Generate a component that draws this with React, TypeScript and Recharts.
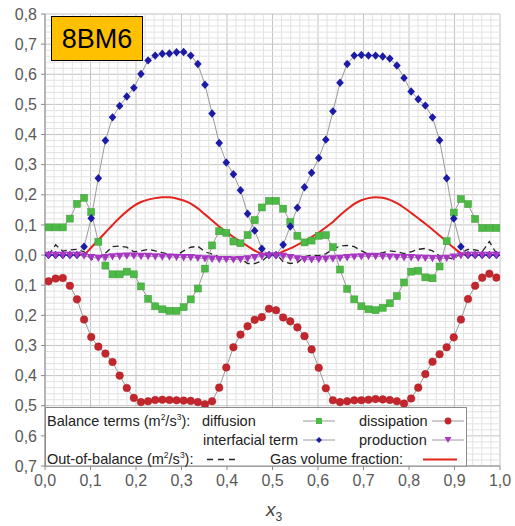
import React from 'react';
import { ComposedChart, Line, XAxis, YAxis, CartesianGrid, ReferenceLine } from 'recharts';

// cell centres along x3 (64 cells)
const xPos = [
  0.0078, 0.0234, 0.0391, 0.0547, 0.0703, 0.0859, 0.1016, 0.1172, 0.1328, 0.1484, 0.1641, 0.1797, 0.1953, 0.2109, 0.2266, 0.2422,
  0.2578, 0.2734, 0.2891, 0.3047, 0.3203, 0.3359, 0.3516, 0.3672, 0.3828, 0.3984, 0.4141, 0.4297, 0.4453, 0.4609, 0.4766, 0.4922,
  0.5078, 0.5234, 0.5391, 0.5547, 0.5703, 0.5859, 0.6016, 0.6172, 0.6328, 0.6484, 0.6641, 0.6797, 0.6953, 0.7109, 0.7266, 0.7422,
  0.7578, 0.7734, 0.7891, 0.8047, 0.8203, 0.8359, 0.8516, 0.8672, 0.8828, 0.8984, 0.9141, 0.9297, 0.9453, 0.9609, 0.9766, 0.9922,
];

const diffusion = [
  0.092, 0.092, 0.092, 0.121, 0.170, 0.190, 0.143, 0.044, -0.035, -0.064, -0.064, -0.055, -0.064, -0.104, -0.145, -0.170,
  -0.180, -0.185, -0.185, -0.173, -0.147, -0.111, -0.045, 0.032, 0.079, 0.074, 0.045, 0.039, 0.066, 0.116, 0.158, 0.180,
  0.180, 0.154, 0.110, 0.064, 0.042, 0.048, 0.064, 0.066, 0.026, -0.048, -0.112, -0.147, -0.170, -0.180, -0.183, -0.175,
  -0.160, -0.136, -0.091, -0.055, -0.052, -0.074, -0.077, -0.038, 0.046, 0.141, 0.186, 0.169, 0.120, 0.090, 0.090, 0.090,
];

const dissipation = [
  -0.087, -0.078, -0.076, -0.102, -0.147, -0.214, -0.272, -0.304, -0.327, -0.355, -0.400, -0.441, -0.474, -0.488, -0.485, -0.481,
  -0.480, -0.481, -0.482, -0.483, -0.484, -0.488, -0.495, -0.485, -0.440, -0.373, -0.306, -0.264, -0.236, -0.215, -0.206, -0.178,
  -0.183, -0.207, -0.220, -0.240, -0.269, -0.313, -0.374, -0.442, -0.482, -0.488, -0.485, -0.482, -0.482, -0.480, -0.478, -0.479,
  -0.481, -0.485, -0.493, -0.476, -0.440, -0.395, -0.354, -0.329, -0.306, -0.273, -0.214, -0.146, -0.102, -0.075, -0.062, -0.075,
];

const interfacial = [
  0, 0, 0, 0, 0, 0.028, 0.122, 0.255, 0.380, 0.457, 0.495, 0.526, 0.555, 0.601, 0.646, 0.662,
  0.668, 0.669, 0.673, 0.674, 0.662, 0.634, 0.565, 0.470, 0.372, 0.307, 0.268, 0.215, 0.137, 0.081, 0.021, 0,
  0, 0.034, 0.095, 0.157, 0.225, 0.273, 0.322, 0.383, 0.477, 0.572, 0.634, 0.662, 0.664, 0.662, 0.662, 0.659,
  0.652, 0.629, 0.588, 0.543, 0.517, 0.496, 0.457, 0.381, 0.255, 0.121, 0.028, 0, 0, 0, 0, 0,
];

const production = [
  0, 0, 0, 0, 0, -0.003, -0.008, -0.010, -0.008, -0.005, -0.004, -0.003, -0.003, -0.004, -0.004, -0.005,
  -0.006, -0.006, -0.007, -0.008, -0.008, -0.010, -0.012, -0.013, -0.014, -0.014, -0.015, -0.014, -0.012, -0.008, -0.004, -0.002,
  -0.002, -0.004, -0.008, -0.012, -0.014, -0.015, -0.014, -0.013, -0.012, -0.010, -0.008, -0.006, -0.005, -0.004, -0.004, -0.005,
  -0.006, -0.007, -0.008, -0.008, -0.009, -0.010, -0.011, -0.012, -0.010, -0.006, -0.002, 0, 0, 0, 0, 0,
];

const outOfBalance = [
  0.0, 0.034, 0.013, 0.017, 0.019, 0.011, -0.014, -0.011, 0.006, 0.028, 0.030, 0.026, 0.011, 0.014, 0.019, 0.014,
  0.008, 0.003, 0.0, 0.014, 0.026, 0.029, 0.011, 0.003, -0.006, -0.006, -0.006, -0.010, -0.028, -0.028, -0.020, 0.0,
  0.005, -0.022, -0.028, -0.025, -0.005, 0.0, -0.002, 0.004, 0.020, 0.030, 0.032, 0.028, 0.014, 0.003, 0.003, 0.008,
  0.014, 0.011, 0.005, 0.011, 0.019, 0.022, 0.014, -0.003, -0.008, -0.014, 0.008, 0.019, 0.017, 0.011, 0.045, 0.005,
];

const gasFraction = [
  0, 0, 0, 0, 0, 0.003, 0.025, 0.050, 0.075, 0.100, 0.124, 0.145, 0.163, 0.176, 0.184, 0.189,
  0.192, 0.192, 0.188, 0.181, 0.171, 0.155, 0.135, 0.115, 0.095, 0.077, 0.060, 0.044, 0.030, 0.015, 0.005, 0.001,
  0.003, 0.012, 0.022, 0.034, 0.046, 0.060, 0.075, 0.092, 0.110, 0.132, 0.152, 0.170, 0.182, 0.189, 0.192, 0.190,
  0.183, 0.172, 0.157, 0.140, 0.122, 0.104, 0.085, 0.065, 0.045, 0.024, 0.006, 0, 0, 0, 0, 0,
];

const xTicks = [0, 0.1, 0.2, 0.3, 0.4, 0.5, 0.6, 0.7, 0.8, 0.9, 1.0];
const yTicks = [-0.7, -0.6, -0.5, -0.4, -0.3, -0.2, -0.1, 0, 0.1, 0.2, 0.3, 0.4, 0.5, 0.6, 0.7, 0.8];

const data = xPos.map((x, i) => ({
  x,
  diffusion: diffusion[i],
  dissipation: dissipation[i],
  interfacial: interfacial[i],
  production: production[i],
  outOfBalance: outOfBalance[i],
  gasFraction: gasFraction[i],
}));

// minor grid every 0.02
const minorX: number[] = [];
for (let k = 1; k < 50; k++) if (k % 5 !== 0) minorX.push(k / 50);
const minorY: number[] = [];
for (let k = -35; k < 40; k++) if (k % 5 !== 0) minorY.push(k / 50);

const fmt = (v: number) => Math.abs(v).toFixed(1).replace('.', ',');

const GREEN = '#4dba45';
const RED = '#c3262c';
const BLUE = '#1b1ba6';
const MAGENTA = '#a835c4';
const CONNECT = '#9a9a9a';
const FONT = 'Arial, "Liberation Sans", sans-serif';

const square = (p: any) =>
  p.cx == null ? null : (
    <rect key={`sq-${p.index}`} x={p.cx - 3.5} y={p.cy - 3.5} width={7} height={7} fill={GREEN} stroke="#3c9c36" strokeWidth={0.5} />
  );
const circle = (p: any) =>
  p.cx == null ? null : <circle key={`ci-${p.index}`} cx={p.cx} cy={p.cy} r={3.8} fill={RED} stroke="#a81e24" strokeWidth={0.5} />;
const diamond = (p: any) =>
  p.cx == null ? null : (
    <path key={`di-${p.index}`} d={`M${p.cx},${p.cy - 4.2}L${p.cx + 3.8},${p.cy}L${p.cx},${p.cy + 4.2}L${p.cx - 3.8},${p.cy}Z`} fill={BLUE} />
  );
const triangle = (p: any) =>
  p.cx == null ? null : (
    <path key={`tr-${p.index}`} d={`M${p.cx - 4.2},${p.cy - 3.4}L${p.cx + 4.2},${p.cy - 3.4}L${p.cx},${p.cy + 3.9}Z`} fill={MAGENTA} />
  );

function Overlay() {
  const legendItem = (cx: number, cy: number, marker: React.ReactNode) => (
    <g>
      <line x1={cx - 16} x2={cx + 16} y1={cy} y2={cy} stroke={CONNECT} strokeWidth={1} />
      {marker}
    </g>
  );
  return (
    <svg width={515} height={526} style={{ position: 'absolute', left: 0, top: 0, pointerEvents: 'none' }} fontFamily={FONT}>
      {/* sample label */}
      <rect x={51.5} y={16.5} width={91} height={44} fill="#ffc000" stroke="#000" strokeWidth={1} />
      <text x={97} y={48} textAnchor="middle" fontSize={27} fill="#000">8BM6</text>

      {/* legend box */}
      <rect x={45.5} y={407.5} width={421} height={58.5} fill="#fff" stroke="#8c8c8c" strokeWidth={1} />
      <g fontSize={14.5} fill="#222">
        <text x={47} y={426}>
          Balance terms (m<tspan dy={-6} fontSize={8.5}>2</tspan>
          <tspan dy={6}>/s</tspan>
          <tspan dy={-6} fontSize={8.5}>3</tspan>
          <tspan dy={6}>):</tspan>
        </text>
        <text x={202} y={426}>diffusion</text>
        <text x={359} y={426}>dissipation</text>
        <text x={203} y={445}>interfacial term</text>
        <text x={359} y={445}>production</text>
        <text x={47} y={464}>
          Out-of-balance (m<tspan dy={-6} fontSize={8.5}>2</tspan>
          <tspan dy={6}>/s</tspan>
          <tspan dy={-6} fontSize={8.5}>3</tspan>
          <tspan dy={6}>):</tspan>
        </text>
        <text x={270} y={464}>Gas volume fraction:</text>
      </g>
      {legendItem(319, 421, <rect x={316} y={418} width={6} height={6} fill={GREEN} />)}
      {legendItem(448, 421, <circle cx={448} cy={421} r={3.4} fill={RED} />)}
      {legendItem(319, 440, <path d="M319,437L322,440L319,443L316,440Z" fill={BLUE} />)}
      {legendItem(448, 440, <path d="M444.5,437L451.5,437L448,443Z" fill={MAGENTA} />)}
      <line x1={207} x2={240} y1={459.5} y2={459.5} stroke="#222" strokeWidth={1.3} strokeDasharray="6 5" />
      <line x1={423} x2={457} y1={459.5} y2={459.5} stroke="#e3241d" strokeWidth={2} />

      {/* axis title */}
      <text x={266} y={516} fontSize={19} fontStyle="italic" fill="#444">
        x<tspan dy={5} fontSize={12} fontStyle="normal">3</tspan>
      </text>
    </svg>
  );
}

export default function App() {
  return (
    <div style={{ position: 'absolute', left: 0, top: 0, width: 515, height: 526, background: '#fff', fontFamily: FONT }}>
      <ComposedChart width={515} height={526} data={data} margin={{ top: 14, right: 15, bottom: 30, left: 0 }}>
        {minorX.map((v) => (
          <ReferenceLine key={`mx${v}`} x={v} stroke="#e2e2e2" strokeWidth={1} />
        ))}
        {minorY.map((v) => (
          <ReferenceLine key={`my${v}`} y={v} stroke="#e2e2e2" strokeWidth={1} />
        ))}
        <CartesianGrid stroke="#c2c2c2" strokeWidth={1} />
        <XAxis
          dataKey="x"
          type="number"
          domain={[0, 1]}
          ticks={xTicks}
          tickFormatter={fmt}
          tick={{ fontSize: 16, fill: '#595959', fontFamily: FONT }}
          tickSize={4}
          tickMargin={5}
          stroke="#8a8a8a"
          height={30}
          allowDataOverflow
        />
        <YAxis
          type="number"
          domain={[-0.7, 0.8]}
          ticks={yTicks}
          tickFormatter={fmt}
          tick={{ fontSize: 16, fill: '#595959', fontFamily: FONT }}
          tickSize={4}
          tickMargin={4}
          stroke="#8a8a8a"
          width={45}
          allowDataOverflow
        />
        <Line type="monotone" dataKey="gasFraction" stroke="#e3241d" strokeWidth={2} dot={false} activeDot={false} isAnimationActive={false} />
        <Line type="linear" dataKey="outOfBalance" stroke="#222" strokeWidth={1.3} strokeDasharray="6 4" dot={false} activeDot={false} isAnimationActive={false} />
        <Line type="linear" dataKey="diffusion" stroke={CONNECT} strokeWidth={1} dot={square} activeDot={false} isAnimationActive={false} />
        <Line type="linear" dataKey="dissipation" stroke={CONNECT} strokeWidth={1} dot={circle} activeDot={false} isAnimationActive={false} />
        <Line type="linear" dataKey="interfacial" stroke={CONNECT} strokeWidth={1} dot={diamond} activeDot={false} isAnimationActive={false} />
        <Line type="linear" dataKey="production" stroke={CONNECT} strokeWidth={1} dot={triangle} activeDot={false} isAnimationActive={false} />
      </ComposedChart>
      <Overlay />
    </div>
  );
}
